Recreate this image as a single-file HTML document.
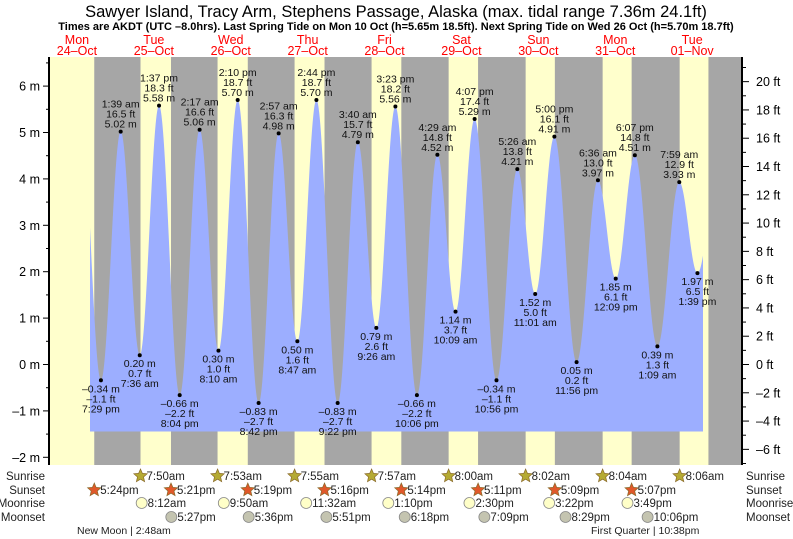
<!DOCTYPE html>
<html><head><meta charset="utf-8"><style>
html,body{margin:0;padding:0;background:#fff;}
svg{display:block;font-family:"Liberation Sans",sans-serif;}
</style></head><body>
<svg id="chart" width="793" height="539" viewBox="0 0 793 539" xmlns="http://www.w3.org/2000/svg">
<text x="396" y="17" text-anchor="middle" font-size="16.5">Sawyer Island, Tracy Arm, Stephens Passage, Alaska (max. tidal range 7.36m 24.1ft)</text>
<text x="396" y="30" text-anchor="middle" font-size="11" font-weight="bold">Times are AKDT (UTC –8.0hrs). Last Spring Tide on Mon 10 Oct (h=5.65m 18.5ft). Next Spring Tide on Wed 26 Oct (h=5.70m 18.7ft)</text>
<g id="bg"></g>
<path id="tide" fill="#9caeff"></path>
<g id="marks"></g>
<g id="axes"></g>
<g id="days"></g>
<g id="astro"></g>
</svg>
<script>
const dayNames=["Mon","Tue","Wed","Thu","Fri","Sat","Sun","Mon","Tue"];
const dayDates=["24–Oct","25–Oct","26–Oct","27–Oct","28–Oct","29–Oct","30–Oct","31–Oct","01–Nov"];
const extDay=[0,1,1,1,1,2,2,2,2,3,3,3,3,4,4,4,4,5,5,5,5,6,6,6,6,7,7,7,8,8,8];
const extH=[19,1,7,13,20,2,8,14,20,2,8,14,21,3,9,15,22,4,10,16,22,5,11,17,23,6,12,18,1,7,13];
const extM=[29,39,36,37,4,17,10,10,42,57,47,44,22,40,26,23,6,29,9,7,56,26,1,0,56,36,9,7,9,59,39];
const extVal=[-0.34,5.02,0.20,5.58,-0.66,5.06,0.30,5.70,-0.83,4.98,0.50,5.70,-0.83,4.79,0.79,5.56,-0.66,4.52,1.14,5.29,-0.34,4.21,1.52,4.91,0.05,3.97,1.85,4.51,0.39,3.93,1.97];
const extLbl=["7:29 pm","1:39 am","7:36 am","1:37 pm","8:04 pm","2:17 am","8:10 am","2:10 pm","8:42 pm","2:57 am","8:47 am","2:44 pm","9:22 pm","3:40 am","9:26 am","3:23 pm","10:06 pm","4:29 am","10:09 am","4:07 pm","10:56 pm","5:26 am","11:01 am","5:00 pm","11:56 pm","6:36 am","12:09 pm","6:07 pm","1:09 am","7:59 am","1:39 pm"];
const sunriseDay=[1,2,3,4,5,6,7,8];
const sunriseT=["7:50","7:53","7:55","7:57","8:00","8:02","8:04","8:06"];
const sunsetDay=[0,1,2,3,4,5,6,7];
const sunsetT=["17:24","17:21","17:19","17:16","17:14","17:11","17:09","17:07"];
const moonriseDay=[1,2,3,4,5,6,7];
const moonriseT=["8:12","9:50","11:32","13:10","14:30","15:22","15:49"];
const moonsetDay=[1,2,3,4,5,6,7];
const moonsetT=["17:27","17:36","17:51","18:18","19:09","20:29","22:06"];
const mTicks=[-2,-1,0,1,2,3,4,5,6];
const ftTicks=[-6,-4,-2,0,2,4,6,8,10,12,14,16,18,20];

const X0=38.5,PD=76.9,Y0=364.5,PM=46.4,TOP=57,BOT=465,L=50,R=742;
const xt=d=>X0+PD*d;
const ym=m=>Y0-PM*m;
const NS="http://www.w3.org/2000/svg";
function mk(tag,parent,attrs){const e=document.createElementNS(NS,tag);for(const k in attrs)e.setAttribute(k,attrs[k]);parent.appendChild(e);return e;}
const tm=s=>{const p=s.split(":");return (+p[0]+ +p[1]/60)/24;};
function fmt12(s){let p=s.split(":"),h=+p[0];const ap=h>=12?"pm":"am";h=h%12;if(h==0)h=12;return h+":"+p[1]+ap;}

const bg=document.getElementById('bg');
let r=mk('rect',bg,{x:L,y:TOP,width:R-L,height:BOT-TOP,fill:'#ffffcc'});

for(let i=0;i<sunsetDay.length;i++){
  const x1=Math.max(L,xt(sunsetDay[i]+tm(sunsetT[i])));
  const x2=i<sunriseDay.length?xt(sunriseDay[i]+tm(sunriseT[i])):R;
  const n=mk('rect',bg,{x:x1,y:TOP,width:Math.min(R,x2)-x1,height:BOT-TOP,fill:'#a6a6a6'});
  
}
{
  const lastSet=xt(8+tm("17:05"));
  if(lastSet<R){const n=mk('rect',bg,{x:lastSet,y:TOP,width:R-lastSet,height:BOT-TOP,fill:'#a6a6a6'});}
}

const T=extDay.map((d,i)=>d+(extH[i]+extM[i]/60)/24);
const pts=[[T[0]-0.263,5.5]].concat(T.map((t,i)=>[t,extVal[i]])).concat([[T[T.length-1]+0.275,4.3]]);
const tS=(90-X0)/PD,tE=(703-X0)/PD,FB=431.5;
function h(t){for(let i=0;i<pts.length-1;i++){if(t>=pts[i][0]&&t<=pts[i+1][0]){const f=(t-pts[i][0])/(pts[i+1][0]-pts[i][0]);return pts[i][1]+(pts[i+1][1]-pts[i][1])*(1-Math.cos(Math.PI*f))/2;}}return pts[pts.length-1][1];}
let d="M"+xt(tS)+","+FB;
for(let t=tS;t<=tE;t+=0.002)d+=" L"+xt(t).toFixed(2)+","+ym(h(t)).toFixed(2);
d+=" L"+xt(tE)+","+ym(h(tE)).toFixed(2)+" L"+xt(tE)+","+FB+"Z";
document.getElementById('tide').setAttribute('d',d);

const mg=document.getElementById('marks');
T.forEach((t,i)=>{
  const x=xt(t),y=ym(extVal[i]);
  const c=mk('circle',mg,{cx:x,cy:y,r:2,fill:'#000'});
  
  const v=extVal[i],m=(v<0?"–":"")+Math.abs(v).toFixed(2)+" m";
  const fv=v/0.3048,f=(fv<0?"–":"")+Math.abs(fv).toFixed(1)+" ft";
  const prev=i>0?extVal[i-1]:5,high=v>prev;
  const lines=high?[extLbl[i],f,m]:[m,f,extLbl[i]];
  const offs=high?[-24,-14,-4]:[12,22,32];
  lines.forEach((s,k)=>{const tx=mk('text',mg,{x:x,y:y+offs[k],'text-anchor':'middle','font-size':'10.5',fill:'#111'});tx.textContent=s;
    });
});

const ax=document.getElementById('axes');
let a=mk('line',ax,{x1:L-1,y1:TOP,x2:L-1,y2:BOT,stroke:'#000','stroke-width':2});
a=mk('line',ax,{x1:R,y1:TOP,x2:R,y2:BOT,stroke:'#000','stroke-width':2});
for(let m=-2;m<=6.5;m+=0.5){const y=ym(m);if(y<TOP)continue;const mj=Number.isInteger(m);mk('line',ax,{x1:L-(mj?7:4),y1:y,x2:L,y2:y,stroke:'#000'});}
mTicks.forEach(m=>{const t=mk('text',ax,{x:40,y:ym(m)+4.5,'text-anchor':'end','font-size':'12.5'});t.textContent=(m<0?"–":"")+Math.abs(m)+" m";});
for(let f=-7;f<=21;f++){const y=Y0-PM*0.3048*f;if(y<TOP||y>BOT)continue;const mj=f%2==0;mk('line',ax,{x1:R,y1:y,x2:R+(mj?7:4),y2:y,stroke:'#000'});}
ftTicks.forEach(f=>{const t=mk('text',ax,{x:756,y:Y0-PM*0.3048*f+4.5,'font-size':'12.5'});t.textContent=(f<0?"–":"")+Math.abs(f)+" ft";});

const dg=document.getElementById('days');
dayNames.forEach((n,i)=>{const x=xt(i+0.5);
  let t=mk('text',dg,{x:x,y:44,'text-anchor':'middle','font-size':'12.5',fill:'#f00'});t.textContent=n;
  t=mk('text',dg,{x:x,y:55,'text-anchor':'middle','font-size':'12.5',fill:'#f00'});t.textContent=dayDates[i];});

const ag=document.getElementById('astro');
const rows=[["Sunrise",480],["Sunset",494],["Moonrise",507],["Moonset",521]];
rows.forEach(rw=>{let t=mk('text',ag,{x:45,y:rw[1],'text-anchor':'end','font-size':'11.5',fill:'#222'});t.textContent=rw[0];
  t=mk('text',ag,{x:746,y:rw[1],'font-size':'11.5',fill:'#222'});t.textContent=rw[0];});
function star(cx,cy,col){let p="";for(let k=0;k<10;k++){const rr=k%2?3.2:7,an=-Math.PI/2+k*Math.PI/5;p+=(k?"L":"M")+(cx+rr*Math.cos(an)).toFixed(1)+","+(cy+rr*Math.sin(an)).toFixed(1);}
  return mk('path',ag,{d:p+"Z",fill:col,stroke:'#8a6a2a','stroke-width':0.7});}
function row(days,times,y,kind){days.forEach((dd,i)=>{const x=xt(dd+tm(times[i]));let ic;
  if(kind==0)ic=star(x,y-4,'#b5aa33');else if(kind==1)ic=star(x,y-4,'#e0582a');
  else ic=mk('circle',ag,{cx:x,cy:y-4,r:5.5,fill:kind==2?'#ffffc8':'#c4c4b0',stroke:'#888','stroke-width':0.8});
  
  const t=mk('text',ag,{x:x+6,y:y,'font-size':'11.5',fill:'#222'});t.textContent=fmt12(times[i]);
  });}
row(sunriseDay,sunriseT,480,0);row(sunsetDay,sunsetT,494,1);row(moonriseDay,moonriseT,507,2);row(moonsetDay,moonsetT,521,3);
let t=mk('text',ag,{x:77,y:534,'font-size':'10.5',fill:'#222'});t.textContent="New Moon | 2:48am";
t=mk('text',ag,{x:591,y:534,'font-size':'10.5',fill:'#222'});t.textContent="First Quarter | 10:38pm";
</script>
</body></html>
